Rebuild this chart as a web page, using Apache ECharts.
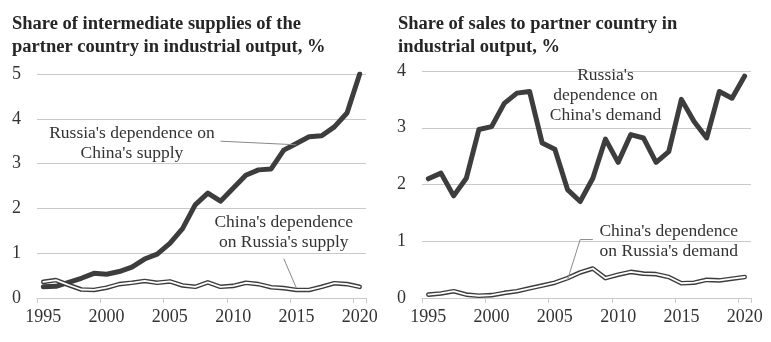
<!DOCTYPE html>
<html><head><meta charset="utf-8">
<script src="https://cdn.jsdelivr.net/npm/echarts@6/dist/echarts.min.js"></script>
<style>html,body{margin:0;padding:0;background:#fff}#c{width:771px;height:342px}</style>
</head><body><div id="c"></div>
<script>
const years = ['1995','1996','1997','1998','1999','2000','2001','2002','2003','2004','2005','2006','2007','2008','2009','2010','2011','2012','2013','2014','2015','2016','2017','2018','2019','2020'];
// Left panel: share of intermediate supplies of the partner country in industrial output, %
const ruDepChinaSupply = [0.25,0.26,0.35,0.44,0.55,0.53,0.59,0.69,0.87,0.98,1.22,1.55,2.08,2.34,2.16,2.45,2.74,2.86,2.88,3.30,3.45,3.60,3.62,3.82,4.13,5.0];
const cnDepRussiaSupply = [0.36,0.40,0.29,0.19,0.18,0.23,0.31,0.34,0.38,0.34,0.37,0.28,0.25,0.35,0.25,0.27,0.34,0.31,0.24,0.22,0.18,0.18,0.25,0.33,0.31,0.25];
// Right panel: share of sales to partner country in industrial output, %
const ruDepChinaDemand = [2.10,2.20,1.80,2.11,2.97,3.02,3.43,3.61,3.64,2.73,2.62,1.91,1.70,2.11,2.80,2.39,2.88,2.82,2.39,2.58,3.50,3.11,2.82,3.64,3.52,3.91];
const cnDepRussiaDemand = [0.06,0.08,0.12,0.06,0.04,0.05,0.09,0.12,0.17,0.22,0.27,0.35,0.45,0.52,0.35,0.41,0.46,0.43,0.42,0.37,0.26,0.27,0.32,0.31,0.34,0.37];
const leftTicks = [0,1,2,3,4,5];
const rightTicks = [0,1,2,3,4];
const titles = ['Share of intermediate supplies of the\npartner country in industrial output, %','Share of sales to partner country in\nindustrial output, %'];

const FONT = '"Liberation Serif", serif';
const TXT = '#333333';
const DARK = '#3d3d3d';
const GRID = '#c9c9c9';

function xAx(gi){
  return {type:'category', gridIndex:gi, data:years, boundaryGap:true,
    axisLine:{show:true, lineStyle:{color:GRID, width:1}},
    axisTick:{show:true, interval:4, length:5, lineStyle:{color:GRID}},
    axisLabel:{interval:4, fontFamily:FONT, fontSize:18, color:TXT, margin:10},
    splitLine:{show:false}};
}
function yAx(gi, ticks){
  return {type:'value', gridIndex:gi, min:ticks[0], max:ticks[ticks.length-1], interval:1,
    axisLine:{show:false}, axisTick:{show:false},
    axisLabel:{fontFamily:FONT, fontSize:18, color:TXT, margin:16},
    splitLine:{show:true, lineStyle:{color:GRID, width:1}}};
}
function thick(gi, data){
  return {type:'line', xAxisIndex:gi, yAxisIndex:gi, data, symbol:'none', silent:true,
    lineStyle:{color:DARK, width:5, join:'round', cap:'round'}, z:3};
}
function dbl(gi, data){
  return [
    {type:'line', xAxisIndex:gi, yAxisIndex:gi, data, symbol:'none', silent:true,
      lineStyle:{color:DARK, width:4.6, join:'round', cap:'round'}, z:4},
    {type:'line', xAxisIndex:gi, yAxisIndex:gi, data, symbol:'none', silent:true,
      lineStyle:{color:'#ffffff', width:1.8, join:'round', cap:'round'}, z:5}
  ];
}

const chart = echarts.init(document.getElementById('c'), null, {renderer:'canvas'});
chart.setOption({
  animation:false,
  backgroundColor:'#ffffff',
  title:[
    {text:titles[0], left:12, top:13, padding:0, textStyle:{fontFamily:FONT, fontWeight:'bold', fontSize:18.5, lineHeight:23, color:'#262626'}},
    {text:titles[1], left:398, top:13, padding:0, textStyle:{fontFamily:FONT, fontWeight:'bold', fontSize:18.5, lineHeight:23, color:'#262626'}}
  ],
  grid:[
    {left:37, top:74, width:329, height:224},
    {left:422, top:71, width:329, height:227}
  ],
  xAxis:[xAx(0), xAx(1)],
  yAxis:[yAx(0, leftTicks), yAx(1, rightTicks)],
  series:[thick(0, ruDepChinaSupply), ...dbl(0, cnDepRussiaSupply), thick(1, ruDepChinaDemand), ...dbl(1, cnDepRussiaDemand)]
});

// Annotations anchored in data space
function px(gi, idx, val){ return chart.convertToPixel({gridIndex:gi}, [idx, val]); }
const tStyle = {fontFamily:FONT, fontSize:17.5, fill:TXT, lineHeight:20, align:'center', verticalAlign:'middle'};
function label(gi, idx, val, text){
  const p = px(gi, idx, val);
  return {type:'text', x:p[0], y:p[1], style:Object.assign({text}, tStyle), silent:true};
}
function leader(gi, pts){
  return {type:'polyline', shape:{points:pts.map(q=>px(gi,q[0],q[1]))}, style:{stroke:'#8a8a8a', lineWidth:1, fill:null}, silent:true, z:10};
}
chart.setOption({graphic:[
  label(0, 7.18, 3.44, "Russia's dependence on\nChina's supply"),
  leader(0, [[14.2, 3.50],[19.87, 3.42]]),
  label(0, 18.95, 1.46, "China's dependence\non Russia's supply"),
  leader(0, [[19.05, 0.88],[19.95, 0.22]]),
  label(1, 14.1, 3.57, "Russia's\ndependence on\nChina's demand"),
  label(1, 18.9, 1.0, "China's dependence\non Russia's demand"),
  leader(1, [[12.64, 1.03],[11.77, 1.03],[11.06, 0.32]])
]});
</script></body></html>
